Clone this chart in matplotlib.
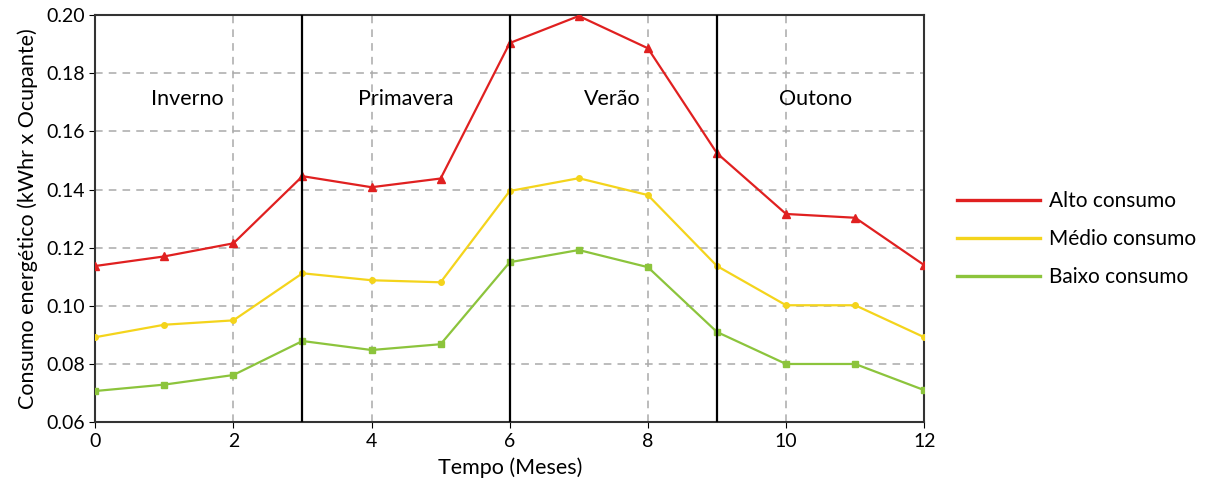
import matplotlib.pyplot as plt
from matplotlib.lines import Line2D

plt.rcParams['font.family'] = ['Lato', 'DejaVu Sans']

# Data
months = [0, 1, 2, 3, 4, 5, 6, 7, 8, 9, 10, 11, 12]
alto = [0.1137, 0.117, 0.1215, 0.1446, 0.1408, 0.1438, 0.1904, 0.1997, 0.1886, 0.1525, 0.1316, 0.1303, 0.1140]
medio = [0.0892, 0.0935, 0.0950, 0.1112, 0.1088, 0.1081, 0.1395, 0.1439, 0.1381, 0.1137, 0.1002, 0.1002, 0.0892]
baixo = [0.0707, 0.0729, 0.0762, 0.0879, 0.0848, 0.0868, 0.1150, 0.1192, 0.1133, 0.0910, 0.0800, 0.0800, 0.0710]

seasons = ["Inverno", "Primavera", "Verão", "Outono"]
season_x = [1.33, 4.49, 7.48, 10.43]
season_bounds = [3, 6, 9]

red = "#e02020"
yellow = "#f4d41c"
green = "#8cc43c"

fig = plt.figure(figsize=(12.05, 4.88), dpi=100)
ax = fig.add_axes([0.079, 0.135, 0.688, 0.834])

ax.grid(True, color="#aaaaaa", linestyle=(0, (5, 4)), linewidth=1.1)
ax.set_axisbelow(True)

ax.plot(months, alto, color=red, lw=1.6, marker="^", ms=6, zorder=3)
ax.plot(months, medio, color=yellow, lw=1.6, marker="o", ms=4, zorder=3)
ax.plot(months, baixo, color=green, lw=1.6, marker="s", ms=5, zorder=3)

for b in season_bounds:
    ax.axvline(b, color="black", lw=1.6, zorder=4)

for s, sx in zip(seasons, season_x):
    ax.text(sx, 0.171, s, ha="center", va="center", fontsize=15.5)

ax.set_xlim(0, 12)
ax.set_ylim(0.06, 0.20)
ax.set_xticks(range(0, 13, 2))
ax.set_yticks([0.06, 0.08, 0.10, 0.12, 0.14, 0.16, 0.18, 0.20])
ax.set_yticklabels([f"{v:.2f}" for v in ax.get_yticks()])
ax.tick_params(labelsize=14, length=4)
for sp in ax.spines.values():
    sp.set_color("#333333")
    sp.set_linewidth(1.5)

ax.set_xlabel("Tempo (Meses)", fontsize=15.5, labelpad=6)
ax.set_ylabel("Consumo energético (kWhr x Ocupante)", fontsize=15.5, labelpad=6)

handles = [Line2D([], [], color=red, lw=2.4),
           Line2D([], [], color=yellow, lw=2.4),
           Line2D([], [], color=green, lw=2.4)]
fig.legend(handles, ["Alto consumo", "Médio consumo", "Baixo consumo"],
           loc="center left", bbox_to_anchor=(0.787, 0.51), frameon=False,
           fontsize=15, handlelength=4.0, handletextpad=0.45, labelspacing=0.85,
           borderaxespad=0)

fig.savefig("out.png", dpi=100)
